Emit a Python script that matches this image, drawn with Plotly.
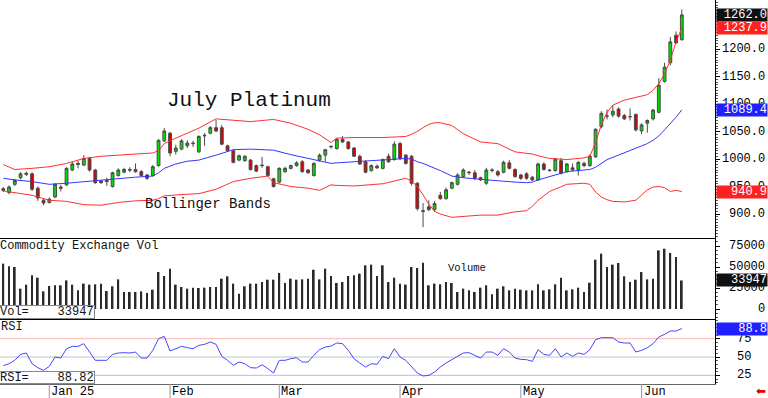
import plotly.graph_objects as go

# ---------------- data ----------------
month_labels = ["Jan 25", "Feb", "Mar", "Apr", "May", "Jun"]
month_start_idx = [8, 29, 48, 69, 90, 111]

open_ = [946,939,954,966,972,973,947,925,921,931,
         949,953,980,990,989,1001,980,960,961,950,
         970,976,981,977,977,971,970,988,1033,1047,
         1014,1018,1024,1029,1013,1042,1047,1057,1057,1024,
         1015,998,997,998,988,989,986,964,958,977,
         983,988,995,980,970,998,1007,1022,1019,1036,
         1031,1020,1005,995,979,987,983,1005,999,1028,
         1007,1005,956,906,913,908,934,928,947,954,
         968,975,975,966,956,979,977,976,993,981,
         971,973,967,962,991,980,979,997,977,984,
         981,992,988,1004,1059,1078,1080,1091,1079,1077,
         1081,1051,1065,1073,1085,1141,1175,1225,1217]
high = [949,952,964,976,977,976,950,928,930,956,
        953,985,995,997,1007,1004,982,962,966,977,
        983,984,985,992,980,973,989,1036,1056,1049,
        1026,1036,1034,1033,1043,1047,1060,1071,1062,1026,
        1017,1008,1007,1000,990,1004,988,966,985,986,
        990,996,998,982,994,1010,1018,1024,1038,1042,
        1033,1022,1008,998,990,990,1001,1010,1032,1031,
        1009,1007,958,920,925,924,940,948,959,974,
        983,978,980,968,984,983,980,997,998,983,
        973,976,969,993,994,982,1002,1002,993,992,
        996,995,1008,1056,1087,1090,1097,1094,1082,1092,
        1083,1065,1072,1091,1147,1175,1222,1232,1272]
low = [940,936,951,963,969,942,924,916,919,929,
       941,951,978,983,987,977,955,955,951,948,
       968,974,976,975,968,962,968,986,1031,1005,
       1008,1016,1020,1022,1011,1024,1045,1049,1025,1013,
       992,996,995,979,976,984,968,948,956,975,
       981,986,975,973,968,995,995,1019,1017,1029,
       1017,1004,989,974,977,982,981,993,997,998,
       990,952,906,876,905,904,926,926,945,952,
       966,971,962,960,953,976,968,974,981,966,
       962,962,960,960,979,977,977,972,975,978,
       970,985,986,1002,1056,1072,1076,1075,1071,1070,
       1050,1045,1048,1070,1083,1139,1170,1209,1215]
close = [943,949,961,973,974,945,929,920,927,954,
         947,983,991,992,1001,980,957,957,959,975,
         980,981,980,981,970,965,986,1034,1051,1011,
         1020,1033,1029,1028,1041,1043,1057,1051,1027,1015,
         994,1006,1005,981,978,988,970,950,983,983,
         988,993,977,975,992,1007,1017,1023,1036,1031,
         1019,1005,991,976,988,984,999,995,1027,1001,
         992,956,910,905,908,919,928,944,957,971,
         980,976,965,962,980,980,971,994,983,968,
         965,965,962,991,981,979,1000,974,991,980,
         994,988,1005,1054,1083,1078,1087,1078,1073,1077,
         1053,1062,1070,1089,1134,1167,1213,1211,1262]

volume = [54000,50800,50000,24200,29000,40100,37300,21000,27400,28200,
          28200,34100,29000,22200,30200,29000,29400,30200,21400,27000,
          35300,20200,20200,20200,21000,19000,23000,44000,39300,48000,
          29000,26200,24200,25400,25000,25400,26200,26200,36100,38900,
          30200,18300,27000,30200,30200,32100,34900,34900,42900,31000,
          36100,34900,35300,36100,46800,35300,48000,39300,31000,32100,
          39300,40100,42100,52000,52800,39300,52000,32100,37300,30200,
          29000,50000,48800,55200,28200,30200,29400,32100,31000,20200,
          24200,22200,20200,25400,28200,17500,24200,27000,22200,24200,
          23000,22200,22200,29400,22200,23400,29400,37300,22200,23400,
          25400,20200,31300,58700,65900,50000,52800,54800,38900,32100,
          34900,44000,35300,36100,69800,71800,66700,61900,33947]

rsi = [38.2,40.9,45.5,53.6,55.5,40.9,35.5,31.8,37.3,50.0,
       48.6,61.4,64.5,64.5,68.2,56.8,45.5,45.5,45.5,53.6,
       55.5,55.9,55.5,56.8,48.6,48.6,59.1,75.0,78.2,58.2,
       61.4,64.5,62.7,61.4,65.9,67.3,70.5,67.3,50.9,45.5,
       38.6,43.2,40.9,35.5,35.0,39.5,34.1,28.2,45.5,45.5,
       47.7,49.1,43.2,43.2,52.3,60.0,63.6,65.0,69.1,68.2,
       59.1,47.7,41.8,36.4,40.9,40.0,50.9,47.7,61.4,50.0,
       45.5,36.4,28.2,24.1,25.0,29.5,36.4,41.8,46.4,50.9,
       55.5,55.9,52.3,48.6,56.8,56.8,52.3,61.4,56.8,48.6,
       46.8,46.4,44.1,60.0,53.6,52.3,61.4,50.0,55.5,50.9,
       55.5,53.6,60.0,73.6,76.4,75.9,76.4,70.5,69.1,69.1,
       56.8,59.1,62.7,68.2,77.3,80.9,85.5,85.5,88.82]

bb_idx = [0,2,5,8,11,14,17,20,23,26,
          27,28,30,32,34,37,40,43,46,47,
          50,53,55,57,58,61,66,70,71,72,
          73,74,75,76,78,80,83,86,89,91,
          92,93,95,98,101,102,103,104,105,106,
          108,110,112,113,114,115,116,117,118]
bb_upper = [990,981,983,986,992,1001,1005,1007,1010,1011,
            1015,1028,1038,1047,1056,1073,1071,1068,1071,1072,
            1065,1054,1044,1030,1038,1039,1039,1041,1045,1050,
            1057,1063,1066,1066,1061,1046,1031,1028,1013,1010,
            1009,1006,1001,999,1002,1005,1030,1062,1085,1098,
            1107,1112,1117,1125,1137,1155,1180,1213,1237.9]
bb_middle = [965,962,959,954,956,959,962,965,967,969,
             975,983,991,996,998,1007,1017,1018,1017,1016,
             1008,1001,997,992,993,995,998,1001,1000,995,
             992,988,984,979,969,966,963,960,958,957,
             958,962,968,977,980,981,985,992,999,1003,
             1011,1020,1028,1034,1042,1053,1064,1076,1089.4]
bb_lower = [942,939,934,925,923,917,916,921,924,925,
            928,933,935,936,937,945,959,965,969,957,
            950,947,943,953,952,951,955,965,960,950,
            935,918,905,900,894,896,898,898,904,906,
            914,925,941,954,956,954,940,931,926,923,
            922,925,944,949,950,948,941,943,940.9]

price_ticks = [900, 950, 1000, 1050, 1100, 1150, 1200]
volume_ticks = [0, 25000, 50000, 75000]
rsi_ticks = [25, 50, 75]

# ---------------- figure ----------------
idx = list(range(len(close)))
MONO = "Liberation Mono"
W, H = 768, 398
PLOT_W = 715
PLOT_H = 384

fig = go.Figure()

fig.add_trace(go.Scatter(x=bb_idx, y=bb_upper, mode="lines",
                         line=dict(color="#ff3030", width=1), xaxis="x", yaxis="y"))
fig.add_trace(go.Scatter(x=bb_idx, y=bb_lower, mode="lines",
                         line=dict(color="#ff3030", width=1), xaxis="x", yaxis="y"))
fig.add_trace(go.Scatter(x=bb_idx, y=bb_middle, mode="lines",
                         line=dict(color="#3535ff", width=1), xaxis="x", yaxis="y"))

fig.add_trace(go.Candlestick(
    x=idx, open=open_, high=high, low=low, close=close,
    increasing=dict(fillcolor="#00dd00", line=dict(color="#4a4a4a", width=1)),
    decreasing=dict(fillcolor="#dd0000", line=dict(color="#4a4a4a", width=1)),
    whiskerwidth=0, xaxis="x", yaxis="y"))

fig.add_trace(go.Bar(x=idx, y=volume, width=0.3,
                     marker=dict(color="#2a2a2a", line=dict(width=0)),
                     xaxis="x2", yaxis="y2"))

fig.add_trace(go.Scatter(x=idx, y=rsi, mode="lines",
                         line=dict(color="#4646ff", width=1), xaxis="x3", yaxis="y3"))

xr = [-0.574, 123.77]
ax_common = dict(range=xr, showticklabels=False, ticks="", showgrid=False,
                 zeroline=False, showline=True, linewidth=1)

fig.update_layout(
    width=W, height=H,
    margin=dict(l=0, r=W - PLOT_W, t=0, b=H - PLOT_H),
    paper_bgcolor="white", plot_bgcolor="white",
    showlegend=False,
    font=dict(family=MONO, size=12, color="#000"),
    xaxis=dict(domain=[0, 1], anchor="y", linecolor="#000", rangeslider=dict(visible=False), **ax_common),
    xaxis2=dict(domain=[0, 1], anchor="y2", linecolor="#000", **ax_common),
    xaxis3=dict(domain=[0, 1], anchor="y3", linecolor="#666", **ax_common),
    yaxis=dict(domain=[1 - 238 / PLOT_H, 1], side="right", range=[856.4, 1289.1],
               showline=True, linecolor="#000", linewidth=1, showgrid=False, zeroline=False,
               tickvals=price_ticks, ticks="outside", ticklen=4, tickcolor="#000",
               showticklabels=False,
               minor=dict(dtick=5, ticks="outside", ticklen=2, tickcolor="#555")),
    yaxis2=dict(domain=[1 - 319 / PLOT_H, 1 - 239 / PLOT_H], side="right", range=[-11905, 83333],
                showline=True, linecolor="#000", linewidth=1, showgrid=False, zeroline=False,
                tickvals=volume_ticks, ticks="outside", ticklen=4, tickcolor="#000",
                showticklabels=False,
                minor=dict(dtick=5000, ticks="outside", ticklen=2, tickcolor="#555")),
    yaxis3=dict(domain=[0, 1 - 320 / PLOT_H], side="right", range=[13.2, 100.5],
                showline=True, linecolor="#000", linewidth=1, showgrid=False, zeroline=False,
                tickvals=rsi_ticks, ticks="outside", ticklen=4, tickcolor="#000",
                showticklabels=False,
                minor=dict(dtick=5, ticks="outside", ticklen=2, tickcolor="#555")),
)

shapes = []
# RSI reference levels
for lvl, col in zip(rsi_ticks, ["#b8b8ff", "#c4c4c4", "#ffb4b4"]):
    shapes.append(dict(type="line", xref="x3 domain", yref="y3", x0=0, x1=1, y0=lvl, y1=lvl,
                       line=dict(color=col, width=1), layer="below"))
# month separators in the date strip
for m in month_start_idx:
    shapes.append(dict(type="line", xref="x3", yref="paper", x0=m, x1=m,
                       y0=-(H - PLOT_H) / PLOT_H, y1=0, line=dict(color="#999", width=1)))
fig.update_layout(shapes=shapes)

ann = []
RX = lambda px: px / PLOT_W  # page px -> paper x

# right-side tick labels
for v in price_ticks:
    ann.append(dict(xref="paper", yref="y", x=RX(767), y=v, text=f"{v:.1f}", showarrow=False,
                    xanchor="right", yanchor="middle", font=dict(family=MONO, size=12, color="#000")))
for v in volume_ticks:
    ann.append(dict(xref="paper", yref="y2", x=RX(767), y=v, text=f"{v}", showarrow=False,
                    xanchor="right", yanchor="middle", font=dict(family=MONO, size=12, color="#000")))
for v in rsi_ticks:
    ann.append(dict(xref="paper", yref="y3", x=RX(753), y=v, text=f"{v}", showarrow=False,
                    xanchor="right", yanchor="middle", font=dict(family=MONO, size=12, color="#000")))

# month labels
for m, lab in zip(month_start_idx, month_labels):
    ann.append(dict(xref="x3", yref="paper", x=m, y=-7.5 / PLOT_H, text=lab, showarrow=False,
                    xanchor="left", yanchor="middle", xshift=1, height=13, borderpad=0,
                    font=dict(family=MONO, size=12, color="#000")))

# value boxes on the right
def vbox(yref, yv, text, bg):
    return dict(xref="paper", yref=yref, x=RX(716), y=yv, text=text, showarrow=False,
                xanchor="left", yanchor="middle", width=50, height=12, align="right",
                bgcolor=bg, borderpad=0, font=dict(family=MONO, size=12, color="white"))

ann.append(vbox("y", close[-1], f"{close[-1]:.1f}", "#111111"))
ann.append(vbox("y", bb_upper[-1], f"{bb_upper[-1]:.1f}", "#ff2020"))
ann.append(vbox("y", bb_middle[-1], f"{bb_middle[-1]:.1f}", "#2020ff"))
ann.append(vbox("y", bb_lower[-1], f"{bb_lower[-1]:.1f}", "#ff2020"))
ann.append(vbox("y2", volume[-1], f"{volume[-1]}", "#111111"))
ann.append(vbox("y3", rsi[-1], f"{rsi[-1]:.1f}", "#2020ff"))

# chart texts
ann.append(dict(xref="x", yref="y", x=28.1, y=1107, text="July Platinum", showarrow=False,
                xanchor="left", yanchor="middle", font=dict(family=MONO, size=21, color="#111")))
ann.append(dict(xref="x", yref="y", x=24.3, y=918, text="Bollinger Bands", showarrow=False,
                xanchor="left", yanchor="middle", font=dict(family=MONO, size=14, color="#111")))
ann.append(dict(xref="paper", yref="paper", x=0, y=1 - 246 / PLOT_H, xshift=-2,
                text="Commodity Exchange Vol", showarrow=False,
                xanchor="left", yanchor="middle", font=dict(family=MONO, size=12, color="#111")))
ann.append(dict(xref="x2", yref="y2", x=77, y=48800, text="Volume", showarrow=False,
                xanchor="left", yanchor="middle", font=dict(family=MONO, size=10.5, color="#111")))
ann.append(dict(xref="paper", yref="paper", x=0, y=1 - 327 / PLOT_H, xshift=-1,
                text="RSI", showarrow=False,
                xanchor="left", yanchor="middle", font=dict(family=MONO, size=12, color="#111")))
ann.append(dict(xref="paper", yref="paper", x=0, y=1 - 311.5 / PLOT_H, xshift=-1,
                text=f"Vol=\u00a0\u00a0\u00a0\u00a0{volume[-1]}", showarrow=False,
                xanchor="left", yanchor="middle", bgcolor="white", bordercolor="#888",
                borderwidth=1, borderpad=0, height=12,
                font=dict(family=MONO, size=12, color="#111")))
ann.append(dict(xref="paper", yref="paper", x=0, y=1 - 377.5 / PLOT_H, xshift=-1,
                text=f"RSI=\u00a0\u00a0\u00a0\u00a0{rsi[-1]:.2f}", showarrow=False,
                xanchor="left", yanchor="middle", bgcolor="white", bordercolor="#888",
                borderwidth=1, borderpad=0, height=11,
                font=dict(family=MONO, size=12, color="#111")))
ann.append(dict(xref="paper", yref="paper", x=RX(761), y=-7 / PLOT_H, text="\u2b05",
                showarrow=False, xanchor="center", yanchor="middle",
                font=dict(family="DejaVu Sans", size=12, color="#e00000")))

fig.update_layout(annotations=ann)

fig.write_html("out.html",
               config={"displayModeBar": False},
               post_script="document.body.style.margin='0';document.body.style.overflow='hidden';")
